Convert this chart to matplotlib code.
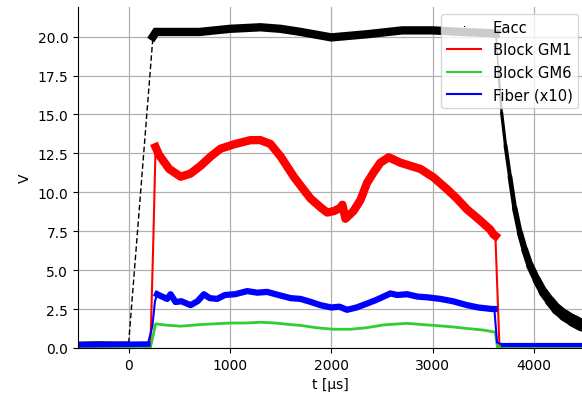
import numpy as np
import matplotlib.pyplot as plt
from matplotlib.collections import LineCollection
from matplotlib.lines import Line2D

# Eacc (black): baseline, ramp, flat top, decay
t_eacc = [-500, -300, -100, 0, 240, 270, 500, 700, 1000, 1300, 1500, 1700, 2000,
          2350, 2700, 3000, 3300, 3625, 3650, 3682, 3720, 3764, 3810, 3862, 3910,
          3961, 4030, 4092, 4160, 4224, 4300, 4387, 4475]
v_eacc = [0.3, 0.32, 0.3, 0.3, 20.0, 20.3, 20.3, 20.3, 20.5, 20.6, 20.5, 20.3, 19.95,
          20.15, 20.4, 20.4, 20.3, 20.2, 17.8, 15.1, 13.0, 11.0, 9.0, 7.4, 6.3,
          5.3, 4.35, 3.6, 3.0, 2.5, 2.1, 1.75, 1.45]

# Block GM1 (red)
t_gm1 = [-500, 215, 240, 266, 300, 400, 513, 610, 710, 810, 907, 1050, 1203, 1300,
         1400, 1500, 1630, 1700, 1795, 1900, 1960, 2030, 2091, 2110, 2140, 2220, 2288,
         2353, 2420, 2485, 2567, 2682, 2880, 3011, 3142, 3240, 3340, 3450, 3570, 3600,
         3620, 3660, 4475]
v_gm1 = [0.1, 0.1, 6.0, 12.9, 12.4, 11.5, 11.0, 11.2, 11.7, 12.3, 12.8, 13.1, 13.35, 13.35,
         13.1, 12.3, 11.0, 10.4, 9.6, 9.0, 8.7, 8.8, 9.0, 9.2, 8.3, 8.8, 9.5,
         10.6, 11.3, 11.9, 12.25, 11.9, 11.5, 10.95, 10.2, 9.6, 8.9, 8.3, 7.6, 7.3,
         7.2, 0.1, 0.1]

# Block GM6 (green)
t_gm6 = [-500, 215, 245, 266, 320, 400, 513, 610, 710, 850, 1006, 1150, 1302, 1450,
         1598, 1696, 1850, 2025, 2189, 2350, 2518, 2748, 2900, 3011, 3200, 3340, 3500,
         3586, 3620, 3640, 4475]
v_gm6 = [0.05, 0.05, 0.9, 1.55, 1.5, 1.45, 1.4, 1.45, 1.5, 1.55, 1.6, 1.6, 1.65, 1.6,
         1.5, 1.45, 1.3, 1.2, 1.2, 1.3, 1.48, 1.58, 1.5, 1.45, 1.35, 1.25, 1.15,
         1.05, 1.0, 0.05, 0.05]

# Fiber x10 (blue)
t_fib = [-500, 190, 234, 260, 281, 330, 380, 414, 463, 520, 611, 680, 743, 800, 874,
         950, 1050, 1170, 1270, 1367, 1450, 1598, 1696, 1800, 1893, 2000, 2080, 2156,
         2250, 2353, 2450, 2584, 2650, 2748, 2850, 2950, 3077, 3200, 3340, 3450, 3586,
         3610, 3636, 3700, 4475]
v_fib = [0.2, 0.25, 1.4, 3.0, 3.45, 3.3, 3.15, 3.45, 2.95, 3.0, 2.75, 3.0, 3.45, 3.2, 3.15,
         3.4, 3.45, 3.65, 3.55, 3.6, 3.45, 3.2, 3.15, 2.95, 2.75, 2.6, 2.65, 2.45,
         2.6, 2.85, 3.1, 3.5, 3.4, 3.45, 3.3, 3.25, 3.15, 3.0, 2.75, 2.6, 2.5,
         2.5, 0.35, 0.2, 0.2]

labels = ['Eacc', 'Block GM1', 'Block GM6', 'Fiber (x10)']
green = '#33cc33'

fig = plt.figure(figsize=(5.82, 4.02), dpi=100)
ax = fig.add_axes([0.134, 0.132, 0.866, 0.848])

# Eacc pieces
ax.plot(t_eacc[:4], v_eacc[:4], color='black', lw=2.5)
ax.plot(t_eacc[3:5], v_eacc[3:5], color='black', lw=1.0, dashes=(4, 2))
ax.plot(t_eacc[4:18], v_eacc[4:18], color='black', lw=6, solid_joinstyle='miter')
pts = np.column_stack([t_eacc[17:], v_eacc[17:]])
segs = np.stack([pts[:-1], pts[1:]], axis=1)
ax.add_collection(LineCollection(segs, colors='black',
                                 linewidths=np.linspace(1.2, 9, len(segs)),
                                 capstyle='round'))

# Block GM1
ax.plot(t_gm1, v_gm1, color='red', lw=1.5)
ax.plot(t_gm1[3:41], v_gm1[3:41], color='red', lw=6)

# Block GM6
ax.plot(t_gm6, v_gm6, color=green, lw=2)

# Fiber
ax.plot(t_fib, v_fib, color='blue', lw=1.5)
ax.plot(t_fib[:2], v_fib[:2], color='blue', lw=4)
ax.plot(t_fib[4:42], v_fib[4:42], color='blue', lw=4.5)
ax.plot(t_fib[-2:], v_fib[-2:], color='blue', lw=3)

ax.set_xlim(-500, 4475)
ax.set_ylim(0, 21.9)
ax.set_xticks([0, 1000, 2000, 3000, 4000])
ax.set_yticks(np.arange(0, 21, 2.5))
ax.yaxis.set_major_formatter(plt.FormatStrFormatter('%.1f'))
ax.grid(True, color='#b0b0b0', lw=0.9)
ax.set_axisbelow(True)
ax.spines['top'].set_visible(False)
ax.spines['right'].set_visible(False)
ax.set_xlabel('t [µs]')
ax.set_ylabel('V')

handles = [Line2D([], [], color='black', marker=',', linestyle='none'),
           Line2D([], [], color='red', lw=1.5),
           Line2D([], [], color=green, lw=1.5),
           Line2D([], [], color='blue', lw=1.5)]
ax.legend(handles, labels, loc='upper right', fontsize=10.6, handlelength=2.3,
          borderaxespad=0, bbox_to_anchor=(0.993, 0.979))

fig.savefig('out.png', dpi=100)
